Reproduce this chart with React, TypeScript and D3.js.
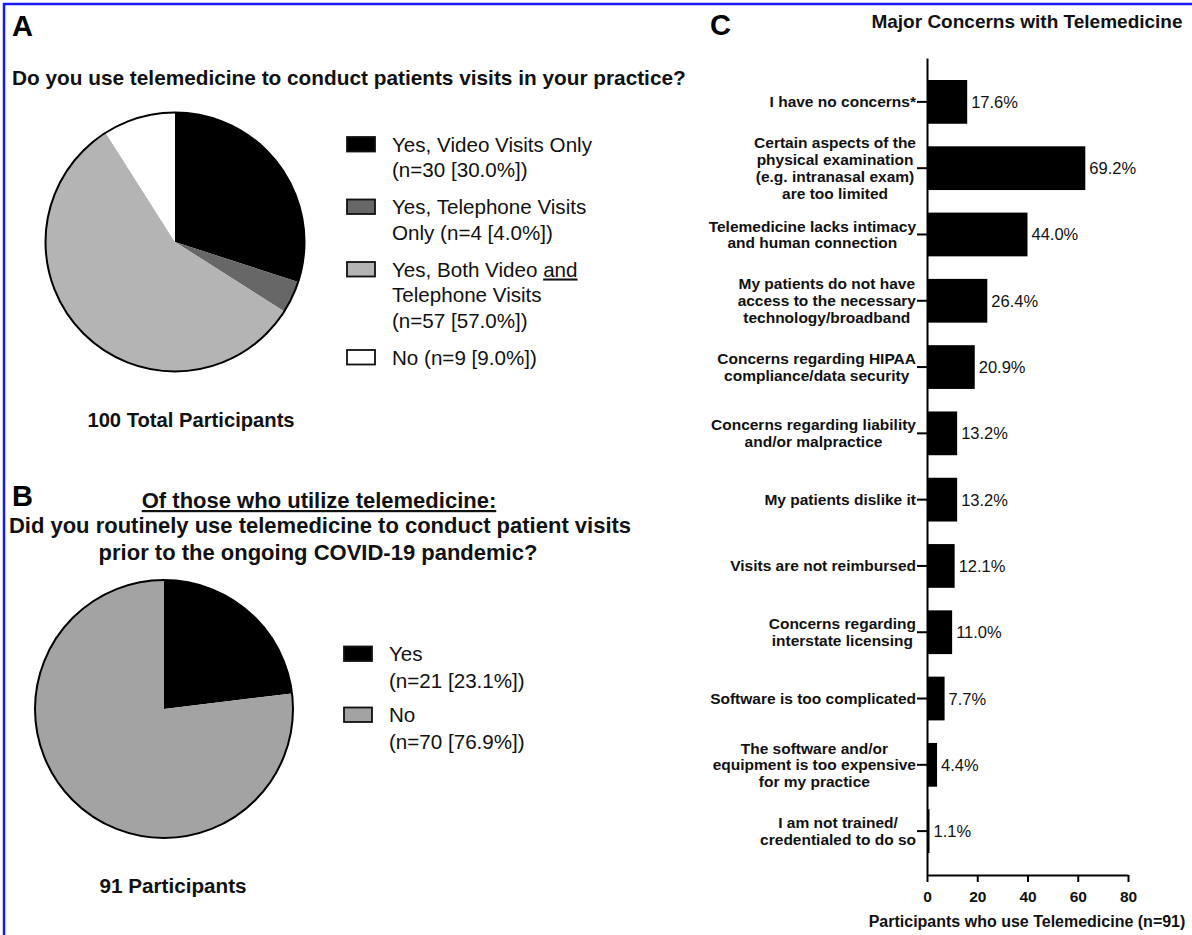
import React, { useEffect, useRef } from "react";
import * as d3 from "d3";

const WIDTH = 1192;
const HEIGHT = 935;
const FONT = "'Liberation Sans', Arial, Helvetica, sans-serif";

// Panel A - telemedicine use
const visitTypes = [
  "Yes, Video Visits Only\n(n=30 [30.0%])",
  "Yes, Telephone Visits\nOnly (n=4 [4.0%])",
  "Yes, Both Video _and_\nTelephone Visits\n(n=57 [57.0%])",
  "No (n=9 [9.0%])",
];
const visitCounts = [30, 4, 57, 9];
const visitColors = ["#000000", "#676767", "#b4b4b4", "#ffffff"];

// Panel B - use prior to COVID-19
const priorTypes = ["Yes\n(n=21 [23.1%])", "No\n(n=70 [76.9%])"];
const priorCounts = [21, 70];
const priorColors = ["#000000", "#a3a3a3"];

// Panel C - concerns
const concerns = [
  "I have no concerns*",
  "Certain aspects of the\nphysical examination\n(e.g. intranasal exam)\nare too limited",
  "Telemedicine lacks intimacy\nand human connection",
  "My patients do not have\naccess to the necessary\ntechnology/broadband",
  "Concerns regarding HIPAA\ncompliance/data security",
  "Concerns regarding liability\nand/or malpractice",
  "My patients dislike it",
  "Visits are not reimbursed",
  "Concerns regarding\ninterstate licensing",
  "Software is too complicated",
  "The software and/or\nequipment is too expensive\nfor my practice",
  "I am not trained/\ncredentialed to do so",
];
const concernCounts = [16, 63, 40, 24, 19, 12, 12, 11, 10, 7, 4, 1];
const concernPercents = ["17.6%", "69.2%", "44.0%", "26.4%", "20.9%", "13.2%", "13.2%", "12.1%", "11.0%", "7.7%", "4.4%", "1.1%"];
const xTicks = [0, 20, 40, 60, 80];

type Sel = d3.Selection<SVGSVGElement, unknown, null, undefined>;

function drawPie(svg: Sel, cx: number, cy: number, r: number, counts: number[], colors: string[]) {
  const pie = d3.pie<number>().sort(null).value(d => d);
  const arc = d3.arc<d3.PieArcDatum<number>>().innerRadius(0).outerRadius(r);
  const g = svg.append("g").attr("transform", `translate(${cx},${cy})`);
  g.selectAll("path")
    .data(pie(counts))
    .enter().append("path")
    .attr("d", arc)
    .attr("fill", (_, i) => colors[i]);
  g.append("circle").attr("r", r).attr("fill", "none").attr("stroke", "#000").attr("stroke-width", 2);
}

function drawLegend(svg: Sel, items: string[], colors: string[], boxX: number, textX: number,
                    startY: number, lineH: number, gap: number) {
  let y = startY;
  items.forEach((item, i) => {
    svg.append("rect")
      .attr("x", boxX).attr("y", y - 14.5)
      .attr("width", 28).attr("height", 14.5)
      .attr("fill", colors[i]).attr("stroke", "#111").attr("stroke-width", 1.8);
    item.split("\n").forEach(line => {
      const t = svg.append("text").attr("x", textX).attr("y", y)
        .attr("font-size", 20.6).attr("fill", "#111");
      line.split("_").forEach((seg, k) => {
        if (!seg) return;
        const ts = t.append("tspan").text(seg);
        if (k % 2 === 1) ts.style("text-decoration", "underline");
      });
      y += lineH;
    });
    y += gap;
  });
}

const App: React.FC = () => {
  const svgRef = useRef<SVGSVGElement>(null);

  useEffect(() => {
    if (!svgRef.current) return;
    const svg = d3.select(svgRef.current);
    svg.selectAll("*").remove();
    svg.attr("font-family", FONT);

    svg.append("rect").attr("width", WIDTH).attr("height", HEIGHT).attr("fill", "#fff");
    // blue frame (top and left edges visible)
    svg.append("path")
      .attr("d", `M4,${HEIGHT} V4 H${WIDTH}`)
      .attr("fill", "none").attr("stroke", "#1a1af0").attr("stroke-width", 2.5);

    // panel letters
    [["A", 12, 36], ["B", 12, 506], ["C", 710, 35]].forEach(([s, x, y]) => {
      svg.append("text").attr("x", x).attr("y", y)
        .attr("font-size", 29).attr("font-weight", "bold").text(s as string);
    });

    // ---- Panel A ----
    svg.append("text").attr("x", 12).attr("y", 85)
      .attr("font-size", 20.8).attr("font-weight", "bold").attr("fill", "#111")
      .text("Do you use telemedicine to conduct patients visits in your practice?");
    drawPie(svg, 175, 242, 129.5, visitCounts, visitColors);
    drawLegend(svg, visitTypes, visitColors, 347, 392, 151.5, 25.5, 11.5);
    svg.append("text").attr("x", 191).attr("y", 427).attr("text-anchor", "middle")
      .attr("font-size", 20.2).attr("font-weight", "bold").attr("fill", "#111")
      .text("100 Total Participants");

    // ---- Panel B ----
    const titleB = 22;
    svg.append("text").attr("x", 319).attr("y", 508).attr("text-anchor", "middle")
      .attr("font-size", titleB).attr("font-weight", "bold").attr("fill", "#111")
      .style("text-decoration", "underline")
      .text("Of those who utilize telemedicine:");
    svg.append("text").attr("x", 320).attr("y", 533).attr("text-anchor", "middle")
      .attr("font-size", titleB).attr("font-weight", "bold").attr("fill", "#111")
      .text("Did you routinely use telemedicine to conduct patient visits");
    svg.append("text").attr("x", 318).attr("y", 560).attr("text-anchor", "middle")
      .attr("font-size", titleB).attr("font-weight", "bold").attr("fill", "#111")
      .text("prior to the ongoing COVID-19 pandemic?");
    drawPie(svg, 164, 709, 129, priorCounts, priorColors);
    drawLegend(svg, priorTypes, priorColors, 344, 389, 661, 27, 7);
    svg.append("text").attr("x", 173).attr("y", 893).attr("text-anchor", "middle")
      .attr("font-size", 20.7).attr("font-weight", "bold").attr("fill", "#111")
      .text("91 Participants");

    // ---- Panel C ----
    svg.append("text").attr("x", 1027).attr("y", 28).attr("text-anchor", "middle")
      .attr("font-size", 19).attr("font-weight", "bold").attr("fill", "#111")
      .text("Major Concerns with Telemedicine");

    const x = d3.scaleLinear().domain([0, 80]).range([927, 1128]);
    const y = d3.scaleBand<string>().domain(concerns).range([58, 875])
      .paddingInner(0.34).paddingOuter(0.332);

    const bars = svg.append("g");
    bars.selectAll("rect")
      .data(concerns)
      .enter().append("rect")
      .attr("x", x(0))
      .attr("y", d => y(d)!)
      .attr("width", (_, i) => x(concernCounts[i]) - x(0))
      .attr("height", y.bandwidth())
      .attr("fill", "#000");

    bars.selectAll("text.val")
      .data(concerns)
      .enter().append("text")
      .attr("class", "val")
      .attr("x", (_, i) => x(concernCounts[i]) + 4)
      .attr("y", d => y(d)! + y.bandwidth() / 2 + 6)
      .attr("font-size", 16.5).attr("fill", "#111")
      .text((_, i) => concernPercents[i]);

    // category labels: lines centred on each other, block right-aligned to the tick
    const labelRight = 916;
    const lineH = 16.8;
    concerns.forEach(c => {
      const lines = c.split("\n");
      const cy = y(c)! + y.bandwidth() / 2;
      const g = svg.append("g");
      const texts = lines.map((line, k) =>
        g.append("text")
          .attr("y", cy + (k - (lines.length - 1) / 2) * lineH + 5.5)
          .attr("text-anchor", "middle")
          .attr("font-size", 15.5).attr("font-weight", "bold").attr("fill", "#111")
          .text(line));
      const maxW = d3.max(texts, t => (t.node() as SVGTextElement).getComputedTextLength()) || 0;
      texts.forEach(t => t.attr("x", labelRight - maxW / 2));
    });

    const yAxis = svg.append("g")
      .attr("transform", `translate(${x(0)},0)`)
      .call(d3.axisLeft(y).tickSize(10).tickSizeOuter(0).tickFormat(() => ""));
    yAxis.selectAll("path, line").attr("stroke", "#000").attr("stroke-width", 2);

    const xAxis = svg.append("g")
      .attr("transform", `translate(0,${875})`)
      .call(d3.axisBottom(x).tickValues(xTicks).tickSize(7).tickSizeOuter(0).tickPadding(9));
    xAxis.selectAll("path, line").attr("stroke", "#000").attr("stroke-width", 2);
    xAxis.selectAll("text")
      .attr("font-family", FONT).attr("font-size", 15.5).attr("font-weight", "bold").attr("fill", "#111");

    svg.append("text").attr("x", 1027).attr("y", 927).attr("text-anchor", "middle")
      .attr("font-size", 16).attr("font-weight", "bold").attr("fill", "#111")
      .text("Participants who use Telemedicine (n=91)");
  }, []);

  return (
    <svg
      ref={svgRef}
      width={WIDTH}
      height={HEIGHT}
      style={{ position: "absolute", left: 0, top: 0, display: "block" }}
    />
  );
};

export default App;
